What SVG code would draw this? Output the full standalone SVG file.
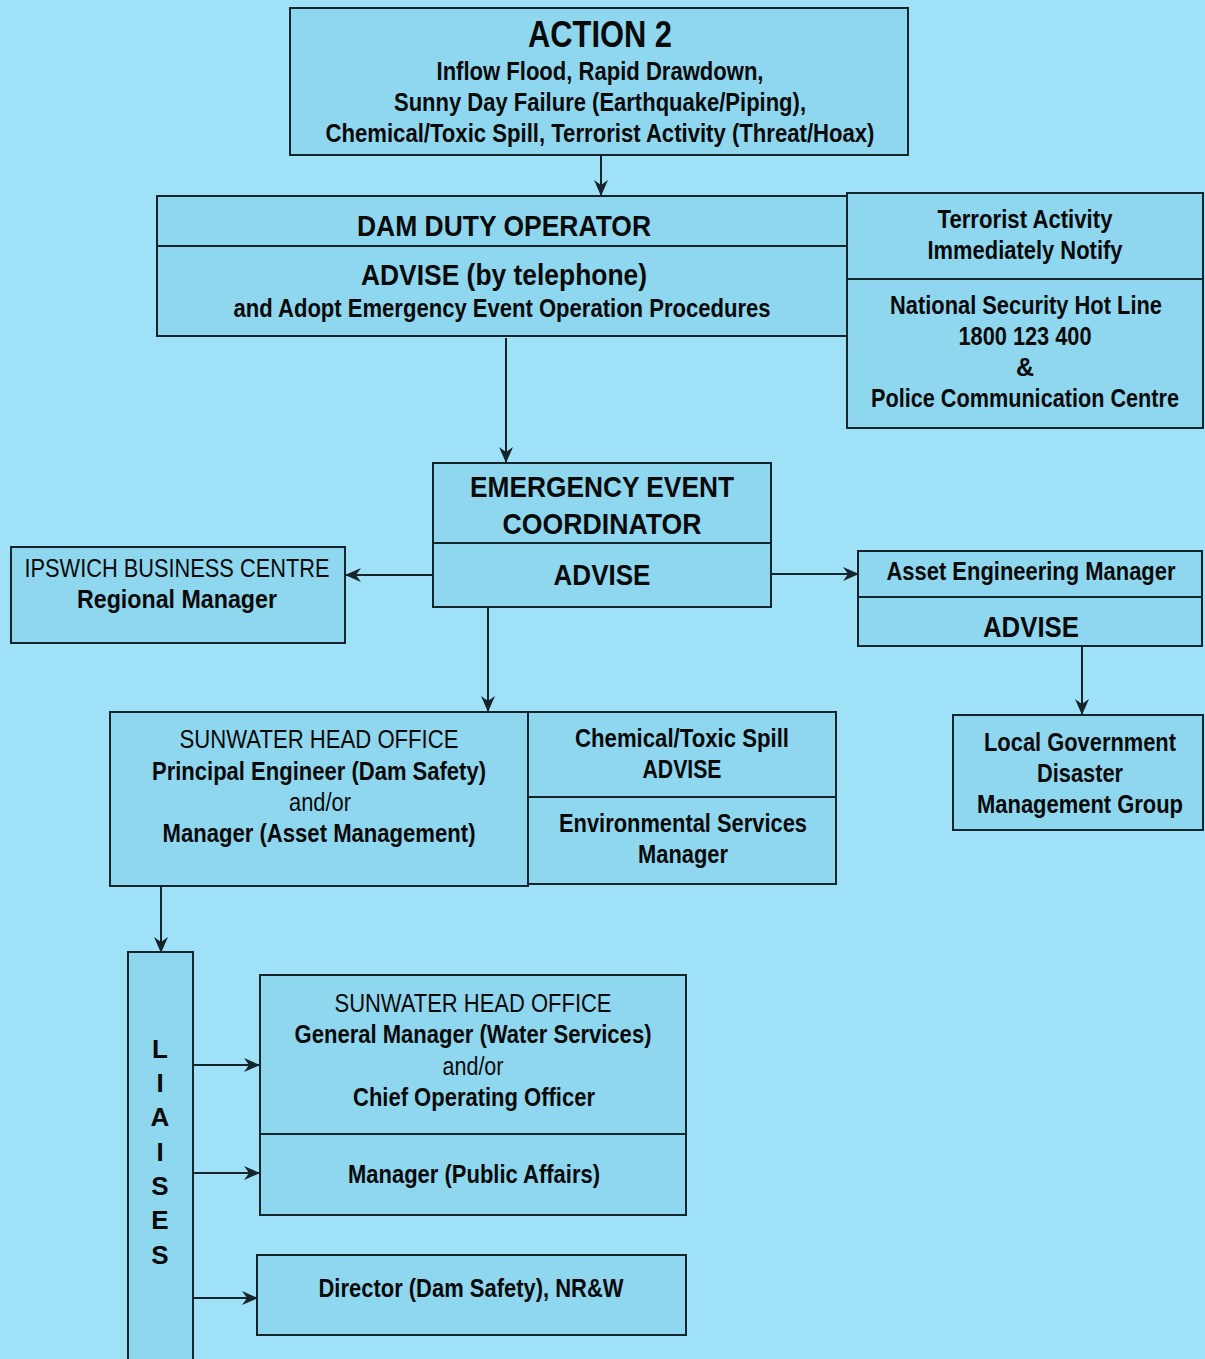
<svg xmlns="http://www.w3.org/2000/svg" width="1205" height="1359" viewBox="0 0 1205 1359">
  <style>
    .box { fill: #8fd7ef; stroke: #16252c; stroke-width: 2; }
    .div { stroke: #16252c; stroke-width: 2; fill: none; }
    .t { font-family: "Liberation Sans Narrow", "Liberation Sans", Arial, sans-serif; fill: #0a0a0a; text-anchor: middle; }
    .b { font-weight: bold; }
    .s24 { font-size: 25px; }
    .s28 { font-size: 30px; }
    .liaise { font-family: "Liberation Sans", Arial, sans-serif; font-weight: bold; font-size: 26px; text-anchor: middle; fill: #0a0a0a; }
    .conn { stroke: #16252c; stroke-width: 2; fill: none; marker-end: url(#arrow); }
  </style>
  <defs>
    <marker id="arrow" markerWidth="16" markerHeight="14" refX="15" refY="7" orient="auto" markerUnits="userSpaceOnUse">
      <path d="M0,0 L16,7 L0,14 L5,7 Z" fill="#16252c"/>
    </marker>
  </defs>

  <rect width="1205" height="1359" fill="#9fe2f7"/>

  <!-- connectors -->
  <g id="connectors">
    <line class="conn" x1="601" y1="155" x2="601" y2="195"/>
    <line class="conn" x1="506" y1="338" x2="506" y2="462"/>
    <line class="conn" x1="433" y1="575" x2="346" y2="575"/>
    <line class="conn" x1="771" y1="574" x2="858" y2="574"/>
    <line class="conn" x1="1082" y1="647" x2="1082" y2="714"/>
    <line class="conn" x1="488" y1="607" x2="488" y2="711"/>
    <line class="conn" x1="161" y1="887" x2="161" y2="952"/>
    <line class="conn" x1="193" y1="1065" x2="259" y2="1065"/>
    <line class="conn" x1="193" y1="1173" x2="259" y2="1173"/>
    <line class="conn" x1="193" y1="1298" x2="257" y2="1298"/>
  </g>

  <!-- Action 2 -->
  <g id="action2">
    <rect class="box" x="290" y="8" width="618" height="147"/>
    <text class="t b" x="600" y="47" font-size="36" textLength="144" lengthAdjust="spacingAndGlyphs">ACTION 2</text>
    <text class="t b s24" x="600" y="80" textLength="327" lengthAdjust="spacingAndGlyphs">Inflow Flood, Rapid Drawdown,</text>
    <text class="t b s24" x="600" y="111" textLength="412" lengthAdjust="spacingAndGlyphs">Sunny Day Failure (Earthquake/Piping),</text>
    <text class="t b s24" x="600" y="142" textLength="549" lengthAdjust="spacingAndGlyphs">Chemical/Toxic Spill, Terrorist Activity (Threat/Hoax)</text>
  </g>

  <!-- Dam duty operator -->
  <g id="dam-duty-operator">
    <rect class="box" x="157" y="196" width="690" height="140"/>
    <line class="div" x1="157" y1="246" x2="847" y2="246"/>
    <text class="t b s28" x="504" y="236" textLength="294" lengthAdjust="spacingAndGlyphs">DAM DUTY OPERATOR</text>
    <text class="t b s28" x="504" y="285" textLength="286" lengthAdjust="spacingAndGlyphs">ADVISE (by telephone)</text>
    <text class="t b s24" x="502" y="317" textLength="537" lengthAdjust="spacingAndGlyphs">and Adopt Emergency Event Operation Procedures</text>
  </g>

  <!-- Terrorist activity -->
  <g id="terrorist-activity">
    <rect class="box" x="847" y="193" width="356" height="235"/>
    <line class="div" x1="847" y1="279" x2="1203" y2="279"/>
    <text class="t b s24" x="1025" y="228" textLength="175" lengthAdjust="spacingAndGlyphs">Terrorist Activity</text>
    <text class="t b s24" x="1025" y="259" textLength="195" lengthAdjust="spacingAndGlyphs">Immediately Notify</text>
    <text class="t b s24" x="1026" y="314" textLength="272" lengthAdjust="spacingAndGlyphs">National Security Hot Line</text>
    <text class="t b s24" x="1025" y="345" textLength="133" lengthAdjust="spacingAndGlyphs">1800 123 400</text>
    <text class="t b s24" x="1025" y="376">&amp;</text>
    <text class="t b s24" x="1025" y="407" textLength="308" lengthAdjust="spacingAndGlyphs">Police Communication Centre</text>
  </g>

  <!-- Emergency event coordinator -->
  <g id="emergency-event-coordinator">
    <rect class="box" x="433" y="463" width="338" height="144"/>
    <line class="div" x1="433" y1="543" x2="771" y2="543"/>
    <text class="t b s28" x="602" y="497" textLength="264" lengthAdjust="spacingAndGlyphs">EMERGENCY EVENT</text>
    <text class="t b s28" x="602" y="534" textLength="199" lengthAdjust="spacingAndGlyphs">COORDINATOR</text>
    <text class="t b s28" x="602" y="585" textLength="97" lengthAdjust="spacingAndGlyphs">ADVISE</text>
  </g>

  <!-- Ipswich business centre -->
  <g id="ipswich">
    <rect class="box" x="11" y="547" width="334" height="96"/>
    <text class="t s24" x="177" y="577" textLength="305" lengthAdjust="spacingAndGlyphs">IPSWICH BUSINESS CENTRE</text>
    <text class="t b s24" x="177" y="608" textLength="200" lengthAdjust="spacingAndGlyphs">Regional Manager</text>
  </g>

  <!-- Asset engineering manager -->
  <g id="asset-engineering">
    <rect class="box" x="858" y="551" width="344" height="95"/>
    <line class="div" x1="858" y1="597" x2="1202" y2="597"/>
    <text class="t b s24" x="1031" y="580" textLength="289" lengthAdjust="spacingAndGlyphs">Asset Engineering Manager</text>
    <text class="t b s28" x="1031" y="637" textLength="96" lengthAdjust="spacingAndGlyphs">ADVISE</text>
  </g>

  <!-- Local government -->
  <g id="local-government">
    <rect class="box" x="953" y="715" width="250" height="115"/>
    <text class="t b s24" x="1080" y="751" textLength="192" lengthAdjust="spacingAndGlyphs">Local Government</text>
    <text class="t b s24" x="1080" y="782" textLength="86" lengthAdjust="spacingAndGlyphs">Disaster</text>
    <text class="t b s24" x="1080" y="813" textLength="206" lengthAdjust="spacingAndGlyphs">Management Group</text>
  </g>

  <!-- Sunwater head office (engineering) -->
  <g id="sunwater-engineering">
    <rect class="box" x="110" y="712" width="418" height="174"/>
    <text class="t s24" x="319" y="748" textLength="279" lengthAdjust="spacingAndGlyphs">SUNWATER HEAD OFFICE</text>
    <text class="t b s24" x="319" y="780" textLength="334" lengthAdjust="spacingAndGlyphs">Principal Engineer (Dam Safety)</text>
    <text class="t s24" x="320" y="811" textLength="62" lengthAdjust="spacingAndGlyphs">and/or</text>
    <text class="t b s24" x="319" y="842" textLength="313" lengthAdjust="spacingAndGlyphs">Manager (Asset Management)</text>
  </g>

  <!-- Chemical / toxic spill -->
  <g id="chemical-spill">
    <rect class="box" x="528" y="712" width="308" height="172"/>
    <line class="div" x1="528" y1="797" x2="836" y2="797"/>
    <text class="t b s24" x="682" y="747" textLength="214" lengthAdjust="spacingAndGlyphs">Chemical/Toxic Spill</text>
    <text class="t b s24" x="682" y="778" textLength="79" lengthAdjust="spacingAndGlyphs">ADVISE</text>
    <text class="t b s24" x="683" y="832" textLength="248" lengthAdjust="spacingAndGlyphs">Environmental Services</text>
    <text class="t b s24" x="683" y="863" textLength="90" lengthAdjust="spacingAndGlyphs">Manager</text>
  </g>

  <!-- Liaises bar -->
  <g id="liaises">
    <path class="box" d="M128,1362 L128,952 L193,952 L193,1362"/>
    <text class="liaise" x="160" y="1058">L</text>
    <text class="liaise" x="160" y="1092">I</text>
    <text class="liaise" x="160" y="1126">A</text>
    <text class="liaise" x="160" y="1161">I</text>
    <text class="liaise" x="160" y="1195">S</text>
    <text class="liaise" x="160" y="1229">E</text>
    <text class="liaise" x="160" y="1264">S</text>
  </g>

  <!-- Sunwater head office (management) -->
  <g id="sunwater-management">
    <rect class="box" x="260" y="975" width="426" height="240"/>
    <line class="div" x1="260" y1="1134" x2="686" y2="1134"/>
    <text class="t s24" x="473" y="1012" textLength="277" lengthAdjust="spacingAndGlyphs">SUNWATER HEAD OFFICE</text>
    <text class="t b s24" x="473" y="1043" textLength="357" lengthAdjust="spacingAndGlyphs">General Manager (Water Services)</text>
    <text class="t s24" x="473" y="1075" textLength="61" lengthAdjust="spacingAndGlyphs">and/or</text>
    <text class="t b s24" x="474" y="1106" textLength="242" lengthAdjust="spacingAndGlyphs">Chief Operating Officer</text>
    <text class="t b s24" x="474" y="1183" textLength="252" lengthAdjust="spacingAndGlyphs">Manager (Public Affairs)</text>
  </g>

  <!-- Director dam safety -->
  <g id="director-dam-safety">
    <rect class="box" x="257" y="1255" width="429" height="80"/>
    <text class="t b s24" x="471" y="1297" textLength="305" lengthAdjust="spacingAndGlyphs">Director (Dam Safety), NR&amp;W</text>
  </g>
</svg>
